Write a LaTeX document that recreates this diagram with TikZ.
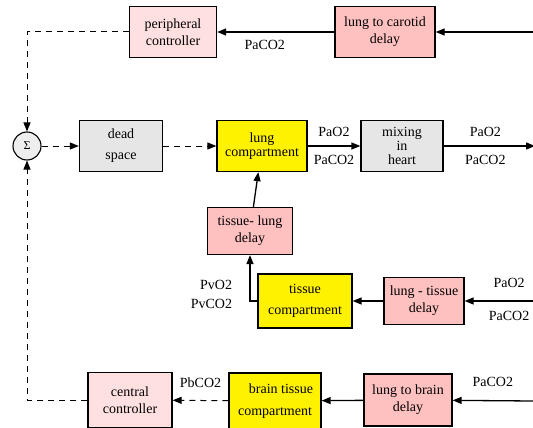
\documentclass[tikz,border=0pt]{standalone}
\usepackage{fontspec}
\setmainfont{Liberation Serif}
\usepackage{xcolor}
\usetikzlibrary{positioning,arrows.meta,calc}
\definecolor{ctrlpink}{HTML}{FFE0E0}
\definecolor{dlypink}{HTML}{FFC0C0}
\definecolor{boxgray}{HTML}{E6E6E6}
\definecolor{sumgray}{HTML}{EEEEEE}

\begin{document}
\begin{tikzpicture}[x=1pt,y=-1pt,>={Triangle[length=9pt,width=7pt]},
  font=\rmfamily\fontsize{14}{17}\selectfont,
  box/.style={draw,line width=1.3pt,align=center,inner sep=0pt},
  ctrl/.style={box,fill=ctrlpink},
  dly/.style={box,fill=dlypink},
  comp/.style={box,fill=yellow},
  grey/.style={box,fill=boxgray},
  sumnode/.style={circle,draw,line width=1.1pt,fill=sumgray,minimum size=28pt,inner sep=0pt},
  flow/.style={->,line width=1.3pt},
  fb/.style={->,line width=1pt,dash pattern=on 6pt off 5pt}]
  \useasboundingbox (0,0) rectangle (533,428);

  % top row
  \node[ctrl,minimum width=87pt,minimum height=51pt] (pc) at (173,32) {peripheral\\controller};
  \node[dly,minimum width=100pt,minimum height=51pt] (lcd) at (385,32) {lung to carotid\\delay};
  \coordinate (inTop) at (533,32);

  % middle row
  \node[sumnode,font=\rmfamily\fontsize{12}{12}\selectfont] (sum) at (27,146) {Σ};
  \node[grey,minimum width=83pt,minimum height=51pt] (ds) at (121,146) {dead\\[4pt]space};
  \node[comp,minimum width=90pt,minimum height=51pt] (lc) at (262,146) {lung\\[-3pt]compartment};
  \node[grey,minimum width=82pt,minimum height=51pt] (mix) at (402,146) {mixing\\[-3pt]in\\[-3pt]heart};
  \coordinate (outMid) at (535,146);

  % tissue loop
  \node[dly,minimum width=85pt,minimum height=47pt] (tld) at (250,231) {tissue- lung\\delay};
  \node[comp,minimum width=94pt,minimum height=54pt] (tc) at (305,301) {tissue\\[4pt]compartment};
  \node[dly,minimum width=80pt,minimum height=47pt] (ltd) at (424,301) {lung - tissue\\delay};
  \coordinate (inTis) at (533,301);

  % bottom row
  \node[ctrl,minimum width=84pt,minimum height=55pt] (cc) at (130,400) {central\\controller};
  \node[comp,minimum width=92pt,minimum height=56pt] (btc) at (275,401) {\hspace*{12pt}brain tissue\\[5pt]compartment};
  \node[dly,minimum width=88pt,minimum height=52pt] (lbd) at (408,400) {lung to brain\\delay};
  \coordinate (inBrain) at (533,401);

  % connectors
  \draw[flow] (inTop) -- (lcd);
  \draw[flow] (lcd) -- (pc) node[midway,below=4pt,xshift=-11pt]{PaCO2};
  \draw[fb] (pc.west) -| (sum.north);
  \draw[fb] (sum) -- (ds);
  \draw[fb] (ds) -- (lc);
  \draw[flow] (lc) -- (mix) node[midway,above=5pt]{PaO2} node[midway,below=5pt]{PaCO2};
  \draw[flow] (mix) -- (outMid) node[midway,above=5pt,xshift=-4pt]{PaO2} node[midway,below=5pt,xshift=-4pt]{PaCO2};
  \draw[flow] (tld) -- (lc);
  \draw[flow] (inTis) -- (ltd) node[pos=0.35,above=9pt]{PaO2} node[pos=0.35,below=6pt]{PaCO2};
  \draw[flow] (ltd) -- (tc);
  \draw[flow] (tc.west) -| (tld.south) node[pos=0.5,left=14pt,yshift=7pt,align=right]{PvO2\\[2pt]PvCO2};
  \draw[flow] (inBrain) -- (lbd) node[midway,above=10pt]{PaCO2};
  \draw[flow] (lbd) -- (btc);
  \draw[fb] (btc) -- (cc) node[midway,above=9pt]{PbCO2};
  \draw[fb] (cc.west) -| (sum.south);
\end{tikzpicture}
\end{document}
